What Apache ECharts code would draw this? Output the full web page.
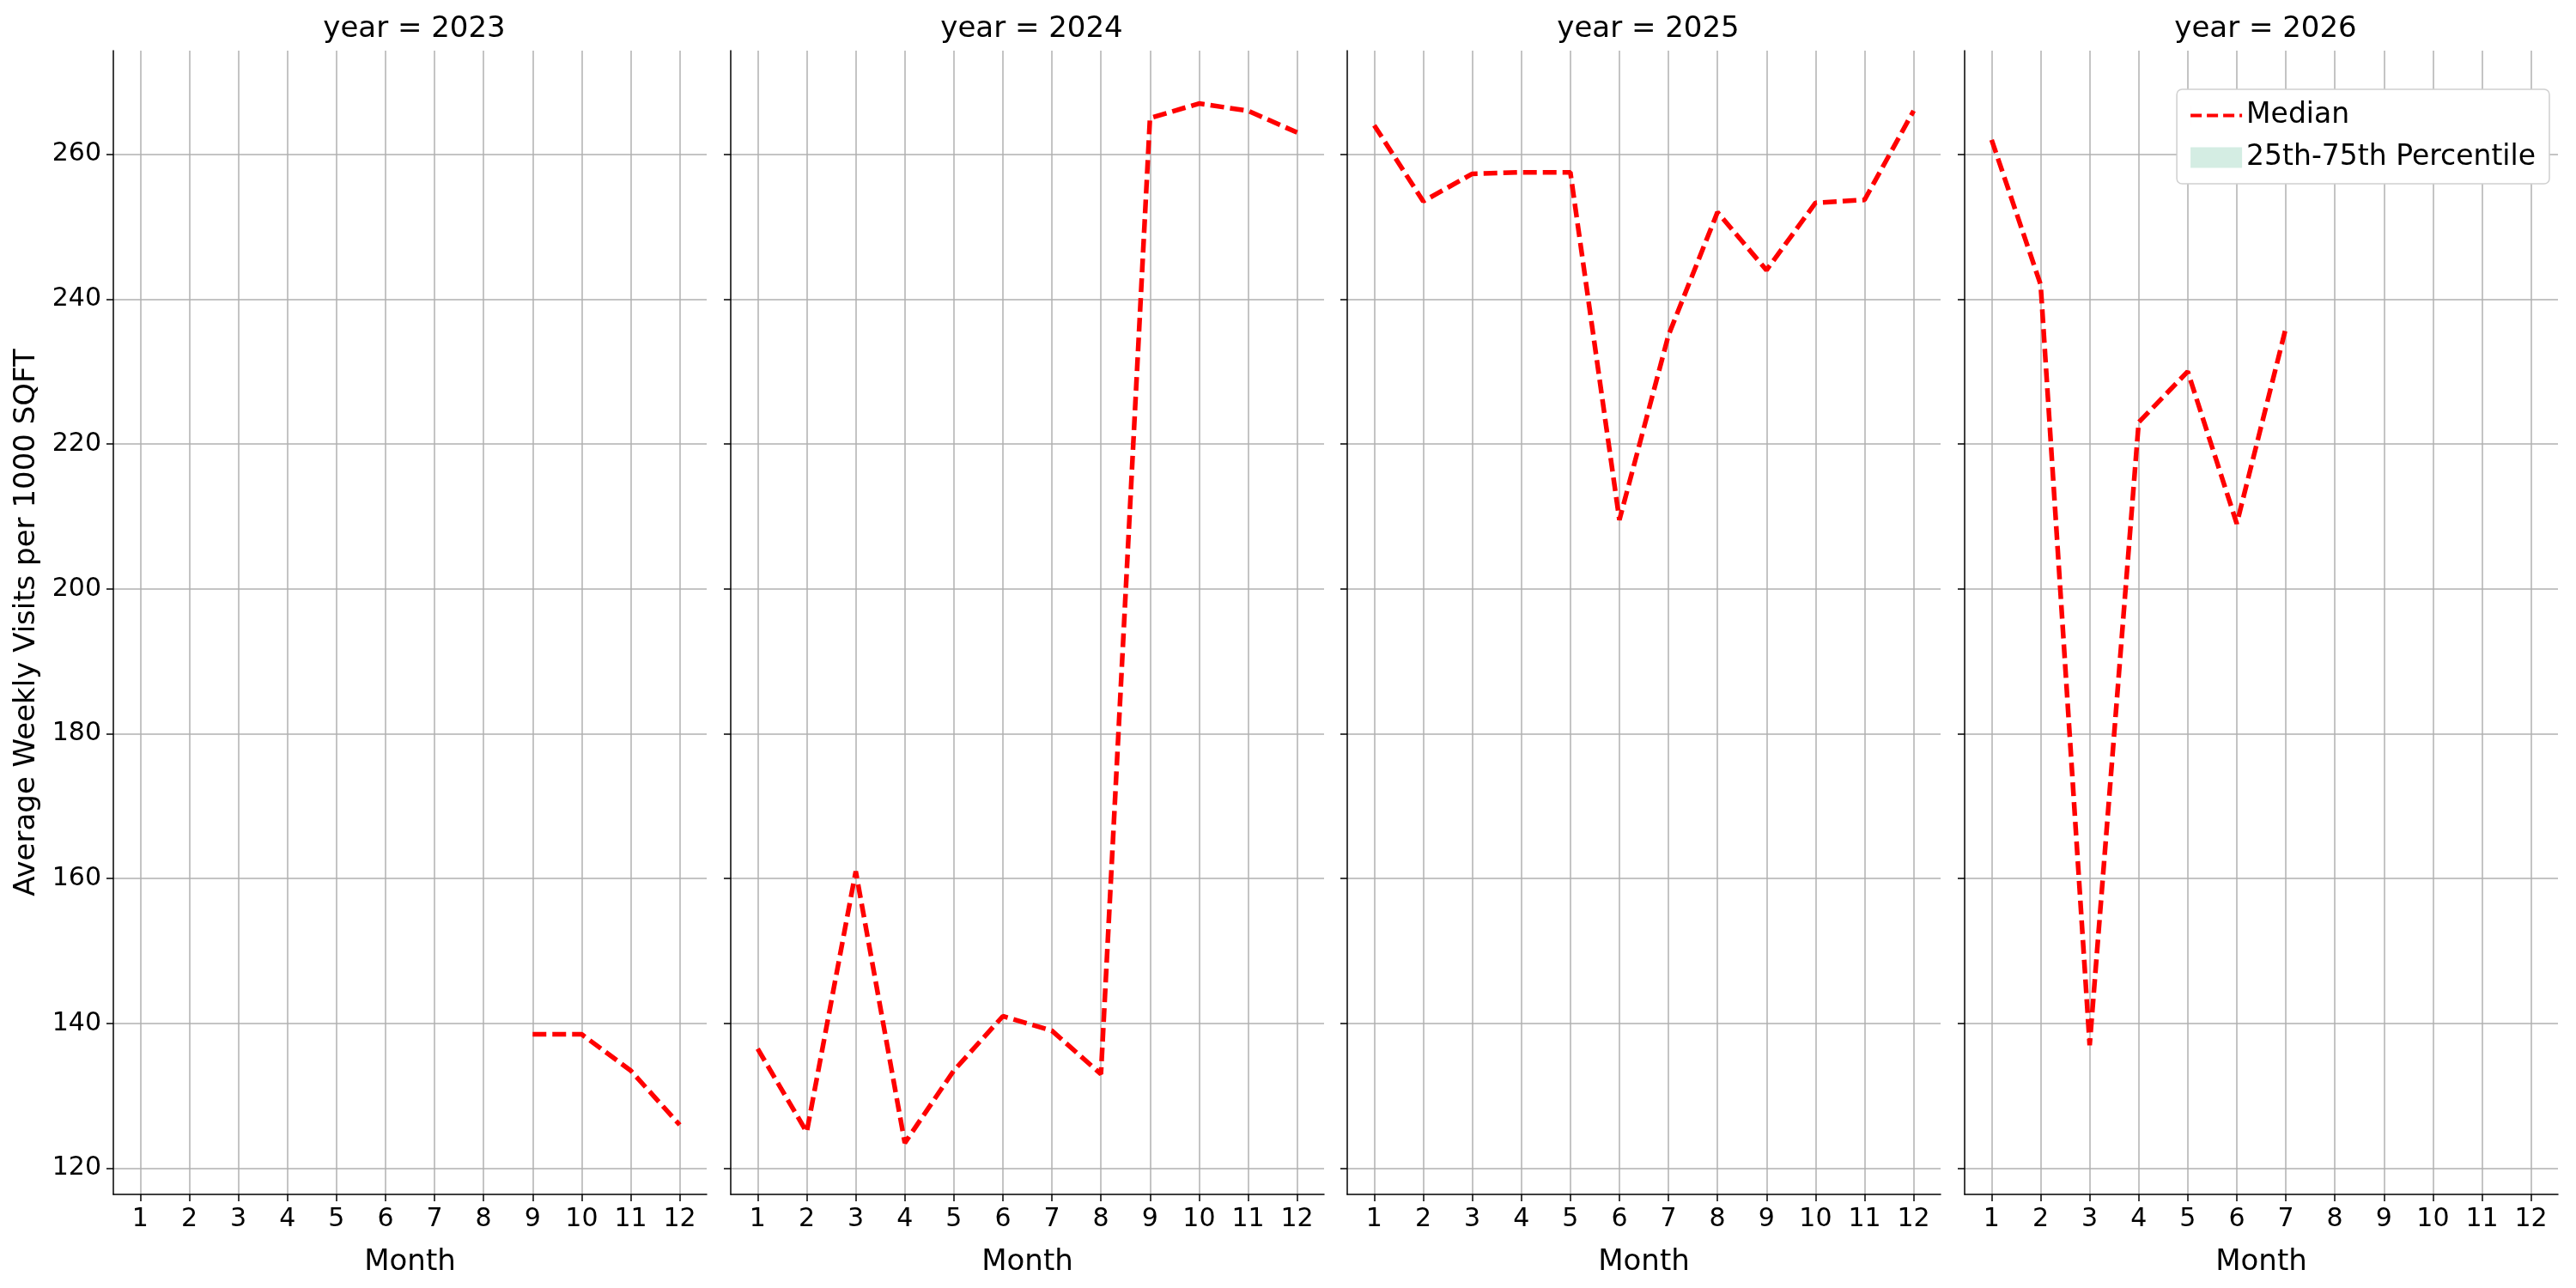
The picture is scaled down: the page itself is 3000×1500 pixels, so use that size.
<!DOCTYPE html>
<html><head><meta charset="utf-8">
<script src="https://cdn.jsdelivr.net/npm/echarts@6/dist/echarts.min.js"></script>
<style>html,body{margin:0;padding:0;background:#fff}#c{width:3000px;height:1500px}</style>
</head><body><div id="c"></div>
<script>
const years = [2023, 2024, 2025, 2026];
const months = [1,2,3,4,5,6,7,8,9,10,11,12];
const median2023 = [null,null,null,null,null,null,null,null,138.5,138.5,133.5,126];
const median2024 = [136.5,125,161,123.5,133.5,141,139,133,265,267,266,263];
const median2025 = [264,253.5,257.3,257.5,257.5,209.5,235,252,244,253.3,253.7,266];
const median2026 = [262,242,137,223,230,209,236,null,null,null,null,null];
const medians = [median2023, median2024, median2025, median2026];
const yTicks = [120,140,160,180,200,220,240,260];

const chart = echarts.init(document.getElementById('c'));
const lefts = [132, 851, 1569, 2288];
const W = 691, TOP = 59, H = 1332;
const font = 'DejaVu Sans';
const grid = [], xAxis = [], yAxis = [], series = [], title = [];
years.forEach((y, i) => {
  grid.push({left: lefts[i], top: TOP, width: W, height: H});
  title.push({text: 'year = ' + y, left: lefts[i] + W/2, top: 12, textAlign: 'center',
    textStyle: {fontFamily: font, fontSize: 34, fontWeight: 'normal', color: '#000'}});
  xAxis.push({type: 'value', gridIndex: i, min: 0.45, max: 12.55,
    name: 'Month', nameLocation: 'middle', nameGap: 62,
    nameTextStyle: {fontFamily: font, fontSize: 34, color: '#000'},
    axisLine: {show: true, onZero: false, lineStyle: {color: '#000', width: 1.5}},
    axisTick: {show: true, length: 8, lineStyle: {color: '#000', width: 1.5}, customValues: months},
    axisLabel: {fontFamily: font, fontSize: 30, color: '#000', margin: 14, customValues: months},
    splitLine: {show: true, lineStyle: {color: '#b0b0b0', width: 1.5}}});
  yAxis.push({type: 'value', gridIndex: i, min: 116.4, max: 274.3,
    name: i === 0 ? 'Average Weekly Visits per 1000 SQFT' : '', nameLocation: 'middle', nameGap: 84,
    nameTextStyle: {fontFamily: font, fontSize: 34, color: '#000'},
    axisLine: {show: true, lineStyle: {color: '#000', width: 1.5}},
    axisTick: {show: true, length: 8, lineStyle: {color: '#000', width: 1.5}, customValues: yTicks},
    axisLabel: {show: i === 0, fontFamily: font, fontSize: 30, color: '#000', margin: 14, customValues: yTicks},
    splitLine: {show: true, lineStyle: {color: '#b0b0b0', width: 1.5}}});
  series.push({name: 'Median', type: 'line', xAxisIndex: i, yAxisIndex: i,
    data: months.map((m, k) => [m, medians[i][k]]), showSymbol: false, symbol: 'none',
    lineStyle: {color: '#ff0000', width: 5.5, type: [16, 7]}, itemStyle: {color: '#ff0000'},
    connectNulls: false, silent: true});
});
series.push({name: '25th-75th Percentile', type: 'line', xAxisIndex: 3, yAxisIndex: 3, data: [],
  itemStyle: {color: '#d4ede3'}, lineStyle: {color: '#d4ede3'}});
chart.setOption({
  animation: false,
  title, grid, xAxis, yAxis, series,
  legend: {show: true, right: 3000 - 2288 - W + 10, top: 104, orient: 'vertical',
    backgroundColor: '#fff', borderColor: '#d0d0d0', borderWidth: 1.5, borderRadius: 6,
    padding: [14, 16], itemGap: 16, itemWidth: 60, itemHeight: 24,
    textStyle: {fontFamily: font, fontSize: 33, color: '#000'},
    data: [
      {name: 'Median', icon: 'path://M0,10H13V14H0Z M19,10H32V14H19Z M38,10H51V14H38Z M57,10H60V14H57Z M0,0H0.01V24H0Z', itemStyle: {color: '#ff0000'}},
      {name: '25th-75th Percentile', icon: 'rect', itemStyle: {color: '#d4ede3'}}
    ]}
});
</script></body></html>
